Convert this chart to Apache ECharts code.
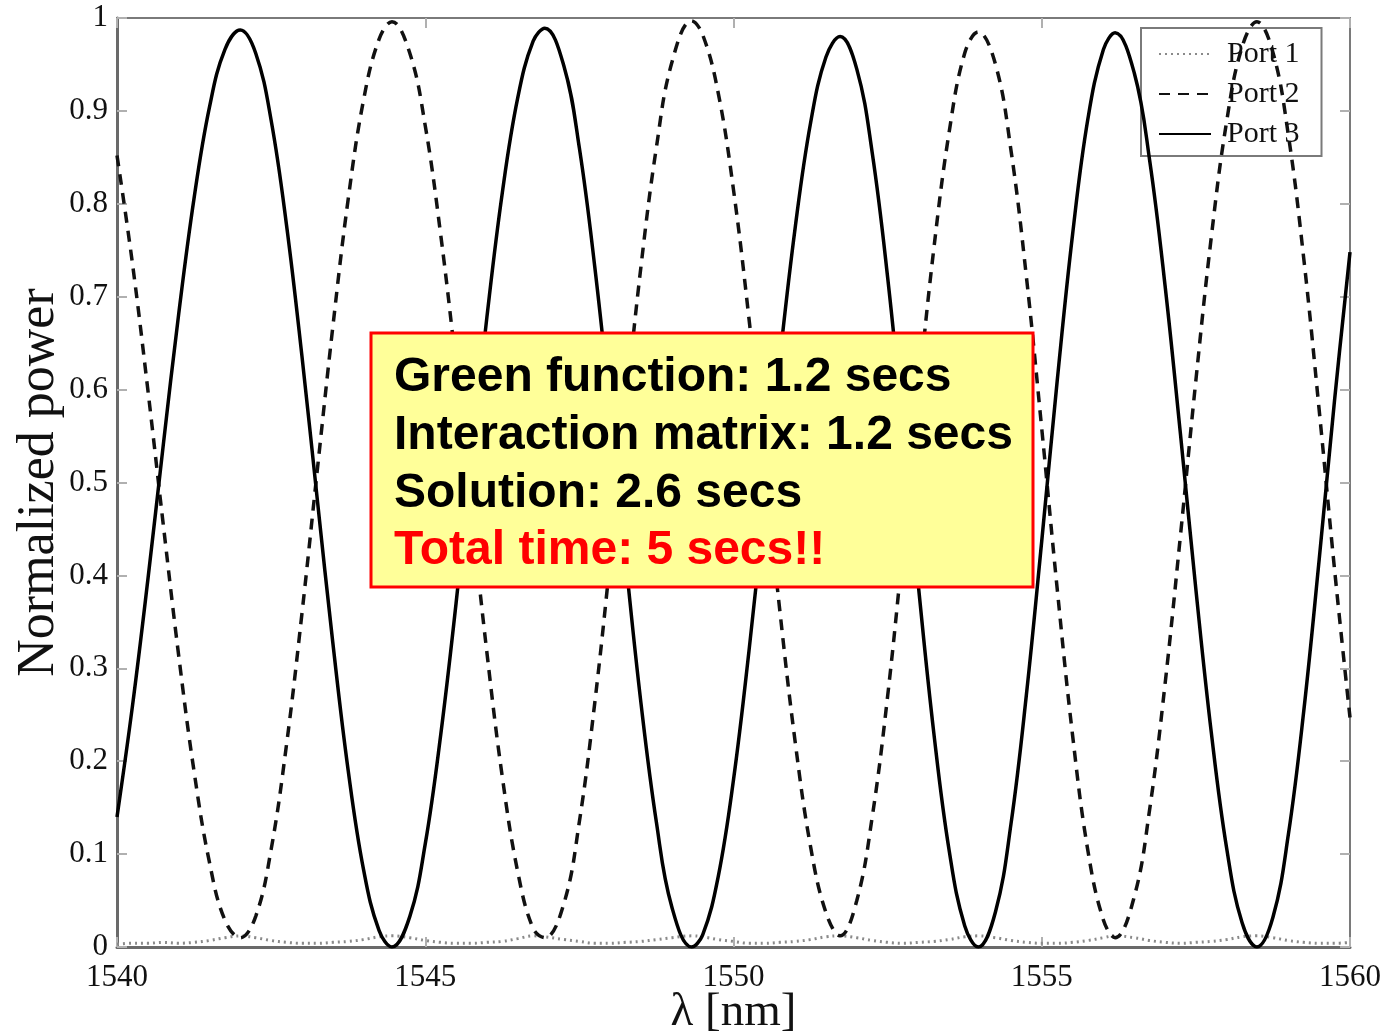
<!DOCTYPE html>
<html>
<head>
<meta charset="utf-8">
<title>Normalized power vs wavelength</title>
<script src="https://cdn.jsdelivr.net/npm/echarts/dist/echarts.min.js"></script>
<style>
  html, body { margin: 0; padding: 0; background: #ffffff; }
  #chart { width: 1386px; height: 1034px; }
</style>
</head>
<body>
<div id="chart"></div>
<script>
// Wavelength samples [nm]
const wavelengthNm = [
  1540.00, 1540.25, 1540.50, 1540.75, 1541.00, 1541.25, 1541.50, 1541.75, 1542.00, 1542.25,
  1542.50, 1542.75, 1543.00, 1543.25, 1543.50, 1543.75, 1544.00, 1544.25, 1544.46, 1544.75,
  1545.00, 1545.25, 1545.50, 1545.75, 1546.00, 1546.25, 1546.50, 1546.75, 1546.94, 1547.25,
  1547.50, 1547.75, 1548.00, 1548.25, 1548.50, 1548.75, 1549.00, 1549.32, 1549.50, 1549.75,
  1550.00, 1550.25, 1550.50, 1550.75, 1551.00, 1551.25, 1551.50, 1551.73, 1552.00, 1552.25,
  1552.50, 1552.75, 1553.00, 1553.25, 1553.50, 1553.75, 1553.97, 1554.25, 1554.50, 1554.75,
  1555.00, 1555.25, 1555.50, 1555.75, 1556.00, 1556.19, 1556.50, 1556.75, 1557.00, 1557.25,
  1557.50, 1557.75, 1558.00, 1558.25, 1558.49, 1558.75, 1559.00, 1559.25, 1559.50, 1559.75,
  1560.00
];

// Normalized power at each output port
const port1 = [
  0.003, 0.004, 0.004, 0.005, 0.004, 0.005, 0.007, 0.010, 0.012, 0.010,
  0.007, 0.005, 0.004, 0.004, 0.005, 0.006, 0.008, 0.011, 0.012, 0.010,
  0.007, 0.005, 0.004, 0.004, 0.005, 0.006, 0.009, 0.012, 0.011, 0.008,
  0.006, 0.004, 0.004, 0.005, 0.006, 0.008, 0.010, 0.012, 0.011, 0.008,
  0.006, 0.004, 0.004, 0.005, 0.006, 0.008, 0.011, 0.012, 0.010, 0.007,
  0.005, 0.004, 0.005, 0.006, 0.008, 0.011, 0.012, 0.010, 0.007, 0.005,
  0.004, 0.004, 0.005, 0.007, 0.010, 0.012, 0.010, 0.007, 0.005, 0.004,
  0.005, 0.006, 0.008, 0.011, 0.012, 0.010, 0.007, 0.005, 0.004, 0.004,
  0.005
];

const port2 = [
  0.852, 0.736, 0.600, 0.455, 0.314, 0.189, 0.091, 0.029, 0.010, 0.033,
  0.105, 0.218, 0.359, 0.514, 0.667, 0.805, 0.912, 0.977, 0.996, 0.962,
  0.884, 0.767, 0.625, 0.469, 0.317, 0.183, 0.081, 0.020, 0.010, 0.047,
  0.135, 0.263, 0.416, 0.578, 0.733, 0.861, 0.952, 0.997, 0.982, 0.920,
  0.815, 0.677, 0.521, 0.363, 0.221, 0.108, 0.037, 0.012, 0.050, 0.140,
  0.270, 0.430, 0.596, 0.752, 0.878, 0.962, 0.985, 0.950, 0.858, 0.722,
  0.558, 0.386, 0.228, 0.103, 0.029, 0.010, 0.054, 0.148, 0.283, 0.443,
  0.610, 0.764, 0.889, 0.969, 0.996, 0.963, 0.874, 0.741, 0.578, 0.406,
  0.247
];

const port3 = [
  0.140, 0.259, 0.395, 0.540, 0.681, 0.806, 0.904, 0.966, 0.987, 0.962,
  0.890, 0.777, 0.636, 0.481, 0.328, 0.190, 0.083, 0.018, 0.000, 0.033,
  0.111, 0.228, 0.370, 0.526, 0.678, 0.812, 0.914, 0.975, 0.989, 0.948,
  0.860, 0.732, 0.579, 0.417, 0.262, 0.134, 0.043, 0.000, 0.013, 0.075,
  0.180, 0.318, 0.474, 0.632, 0.774, 0.887, 0.958, 0.980, 0.945, 0.855,
  0.721, 0.558, 0.388, 0.230, 0.103, 0.023, 0.000, 0.038, 0.132, 0.271,
  0.437, 0.609, 0.767, 0.892, 0.966, 0.984, 0.941, 0.847, 0.712, 0.552,
  0.385, 0.231, 0.106, 0.026, 0.000, 0.032, 0.121, 0.254, 0.417, 0.589,
  0.748
];

const seriesNames = ['Port 1', 'Port 2', 'Port 3'];

// Axis ranges and tick steps
const xRange = [1540, 1560];
const xStep = 5;
const yRange = [0, 1];
const yStep = 0.1;

// Timing notes shown in the highlighted box
const timingLines = [
  'Green function: 1.2 secs',
  'Interaction matrix: 1.2 secs',
  'Solution: 2.6 secs'
];
const totalLine = 'Total time: 5 secs!!';

const serif = '"Liberation Serif", "DejaVu Serif", serif';
const sans = '"Liberation Sans", Arial, sans-serif';

function pairs(ys) {
  return wavelengthNm.map((x, i) => [x, ys[i]]);
}

const chart = echarts.init(document.getElementById('chart'), null, { renderer: 'canvas' });

const tickStyle = { inside: true, length: 10, lineStyle: { color: '#b0b0b0', width: 2 } };
const frameLine = { show: true, onZero: false, lineStyle: { color: '#6a6a6a', width: 3 } };

const boxLeft = 371, boxTop = 333, boxW = 662, boxH = 254;
const textX = 394, firstLineY = 378, lineStep = 57.7;

const graphicItems = [{
  type: 'rect',
  z: 100,
  shape: { x: boxLeft, y: boxTop, width: boxW, height: boxH },
  style: { fill: '#FFFF99', stroke: '#FF0000', lineWidth: 3 }
}];
timingLines.concat([totalLine]).forEach((t, i) => {
  graphicItems.push({
    type: 'text',
    z: 101,
    x: textX,
    y: firstLineY + i * lineStep,
    style: {
      text: t,
      fontFamily: sans,
      fontWeight: 'bold',
      fontSize: 48,
      fill: t === totalLine ? '#FF0000' : '#000000',
      verticalAlign: 'middle',
      align: 'left'
    }
  });
});

chart.setOption({
  animation: false,
  backgroundColor: '#ffffff',
  grid: { left: 117, right: 36, top: 18, bottom: 87, containLabel: false, outerBoundsMode: 'none' },
  legend: {
    data: seriesNames,
    orient: 'vertical',
    left: 1141,
    top: 28,
    padding: [11, 22, 7, 17],
    itemGap: 10,
    itemWidth: 52,
    itemHeight: 14,
    itemStyle: { opacity: 0 },
    backgroundColor: '#ffffff',
    borderColor: '#7a7a7a',
    borderWidth: 2,
    borderRadius: 0,
    textStyle: { fontFamily: serif, fontSize: 30, color: '#111', lineHeight: 30, padding: [0, 0, 0, 11] }
  },
  xAxis: [{
    type: 'value',
    position: 'bottom',
    min: xRange[0], max: xRange[1], interval: xStep,
    axisLine: frameLine,
    axisTick: tickStyle,
    splitLine: { show: false },
    axisLabel: { fontFamily: serif, fontSize: 31, color: '#111', margin: 15, formatter: v => String(v) },
    name: 'λ [nm]',
    nameLocation: 'middle',
    nameGap: 42,
    nameMoveOverlap: false,
    nameTextStyle: { fontFamily: serif, fontSize: 47, color: '#111' }
  }, {
    type: 'value',
    position: 'top',
    min: xRange[0], max: xRange[1], interval: xStep,
    axisLine: { show: true, onZero: false, lineStyle: { color: '#7a7a7a', width: 2 } },
    axisTick: tickStyle,
    splitLine: { show: false },
    axisLabel: { show: false }
  }],
  yAxis: [{
    type: 'value',
    position: 'left',
    min: yRange[0], max: yRange[1], interval: yStep,
    axisLine: frameLine,
    axisTick: tickStyle,
    splitLine: { show: false },
    axisLabel: {
      fontFamily: serif, fontSize: 31, color: '#111', margin: 9,
      formatter: v => String(Math.round(v * 10) / 10)
    },
    name: 'Normalized power',
    nameLocation: 'middle',
    nameGap: 52,
    nameMoveOverlap: false,
    nameTextStyle: { fontFamily: serif, fontSize: 52, color: '#111' }
  }, {
    type: 'value',
    position: 'right',
    min: yRange[0], max: yRange[1], interval: yStep,
    axisLine: { show: true, onZero: false, lineStyle: { color: '#7a7a7a', width: 2 } },
    axisTick: tickStyle,
    splitLine: { show: false },
    axisLabel: { show: false }
  }],
  series: [{
    name: seriesNames[0],
    type: 'line',
    data: pairs(port1),
    symbol: 'none',
    smooth: 0.4,
    z: 3,
    lineStyle: { color: '#8a8a8a', width: 3, type: [2, 4] },
    itemStyle: { color: '#8a8a8a' }
  }, {
    name: seriesNames[1],
    type: 'line',
    data: pairs(port2),
    symbol: 'none',
    smooth: 0.4,
    z: 4,
    lineStyle: { color: '#111111', width: 3.5, type: [11, 8] },
    itemStyle: { color: '#111111' }
  }, {
    name: seriesNames[2],
    type: 'line',
    data: pairs(port3),
    symbol: 'none',
    smooth: 0.4,
    z: 5,
    lineStyle: { color: '#000000', width: 3.5, type: 'solid' },
    itemStyle: { color: '#000000' }
  }],
  graphic: graphicItems
});
</script>
</body>
</html>
